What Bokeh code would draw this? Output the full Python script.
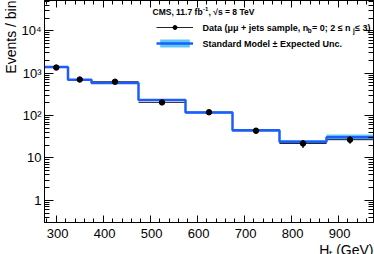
from bokeh.plotting import figure
from bokeh.models import (Range1d, FixedTicker, LinearAxis, LogAxis, Label,
                          Legend, LegendItem, Title)
from bokeh.embed import file_html
from bokeh.resources import INLINE

# ---- data ----
bin_edges = [275, 325, 375, 475, 575, 675, 775, 875, 975]
data_counts = [1360, 710, 630, 205, 120, 44, 22, 27]
data_err = [37, 27, 25, 14, 11, 6.6, 4.7, 5.2]
mc_counts = [1400, 700, 590, 232, 118, 45, 24, 31]
mc_unc = [55, 30, 25, 12, 7, 3.2, 2.4, 4.6]
x_ticks = [300, 400, 500, 600, 700, 800, 900]
y_ticks = [1, 10, 100, 1000, 10000]
y_tick_labels = ["1", "10", "10²", "10³", "10⁴"]

FONT = "Liberation Sans"
BLUE = "#1f5cff"
BAND = "#5ec8f8"

left = bin_edges[:-1]
right = bin_edges[1:]
centers = [(a + b) / 2 for a, b in zip(left, right)]
step_x, step_y = [], []
for a, b, v in zip(left, right, mc_counts):
    step_x += [a, b]
    step_y += [v, v]

y_lo, y_hi = 0.3, 5.2e4
p = figure(width=374, height=254, x_range=Range1d(bin_edges[0], bin_edges[-1]),
           y_range=Range1d(y_lo, y_hi), y_axis_type="log",
           output_backend="svg", toolbar_location=None,
           min_border_left=41, min_border_right=1, min_border_top=0,
           min_border_bottom=28)
p.xgrid.visible = False
p.ygrid.visible = False
p.outline_line_color = "black"
p.background_fill_color = "white"

x_minor = [v for v in range(280, 975, 20)]
y_minor = []
for d in [0.1, 1, 10, 100, 1000, 10000]:
    for m in range(2, 10):
        if y_lo <= m * d <= y_hi:
            y_minor.append(m * d)
xt = FixedTicker(ticks=x_ticks, minor_ticks=x_minor)
yt = FixedTicker(ticks=y_ticks, minor_ticks=y_minor)


def style(ax, maj, mnr):
    ax.axis_line_color = "black"
    ax.major_tick_line_color = "black"
    ax.minor_tick_line_color = "black"
    ax.major_tick_in = maj
    ax.major_tick_out = 0
    ax.minor_tick_in = mnr
    ax.minor_tick_out = 0


def hide_labels(ax):
    ax.major_label_text_font_size = "1px"
    ax.major_label_text_alpha = 0
    ax.major_label_standoff = 0


p.xaxis.ticker = xt
p.yaxis.ticker = yt
style(p.xaxis[0], 7, 4)
style(p.yaxis[0], 9, 5)
for ax in (p.xaxis[0], p.yaxis[0]):
    ax.major_label_text_font = FONT
    ax.major_label_text_font_size = "13px"
    ax.major_label_text_color = "black"
p.xaxis[0].major_label_standoff = 3
p.yaxis[0].major_label_standoff = 3
p.xaxis[0].major_label_overrides = {t: "\u2009" + str(t) for t in x_ticks}
p.yaxis[0].major_label_overrides = {t: s for t, s in zip(y_ticks, y_tick_labels)}

top_ax = LinearAxis(ticker=xt)
style(top_ax, 7, 4)
hide_labels(top_ax)
p.add_layout(top_ax, "above")
right_ax = LogAxis(ticker=yt)
style(right_ax, 9, 5)
hide_labels(right_ax)
p.add_layout(right_ax, "right")

# axis titles (as side titles so they are not clipped by the frame)
p.add_layout(Title(text="Events / bin", align="right", text_font=FONT,
                   text_font_size="14px", text_font_style="normal",
                   text_color="black", standoff=0, offset=0), "left")
p.add_layout(Title(text="H\u209c (GeV)", align="right", text_font=FONT,
                   text_font_size="14px", text_font_style="normal",
                   text_color="black", standoff=-7, offset=0), "below")

# ---- marks ----
band_r = p.quad(left=left, right=right,
                bottom=[v - u for v, u in zip(mc_counts, mc_unc)],
                top=[v + u for v, u in zip(mc_counts, mc_unc)],
                fill_color=BAND, line_color=None)
hseg_r = p.segment(x0=left, y0=data_counts, x1=right, y1=data_counts,
                   line_color="#222222", line_width=1)
line_r = p.line(step_x, step_y, line_color=BLUE, line_width=2.5)
p.segment(x0=centers, y0=[v - e for v, e in zip(data_counts, data_err)],
          x1=centers, y1=[v + e for v, e in zip(data_counts, data_err)],
          line_color="black", line_width=1.2)
pts_r = p.scatter(centers, data_counts, size=5.5, color="black")

# ---- legend ----
leg = Legend(items=[LegendItem(label=" ", renderers=[hseg_r, pts_r]),
                    LegendItem(label=" ", renderers=[band_r, line_r])],
             location=(112, 174), glyph_width=37, glyph_height=10,
             label_height=10, spacing=6, padding=0, margin=0,
             label_standoff=2, border_line_alpha=0, background_fill_alpha=0,
             label_text_font_size="9px")
p.add_layout(leg)


def lab(x, y, text, size, bold=True, align="left", baseline="middle"):
    p.add_layout(Label(x=x, y=y, x_units="screen", y_units="screen", text=text,
                       text_font=FONT, text_font_size=f"{size}px",
                       text_font_style="bold" if bold else "normal",
                       text_align=align, text_baseline=baseline,
                       text_color="black"))

# frame-relative screen coords: x from frame left, y from frame bottom
lab(108, 211, "CMS, 11.7 fb", 8.5)
lab(158.5, 214, "-1", 6)
lab(164, 211, ", √s = 8 TeV", 8.5)
x0 = 158
lab(x0, 195, "Data (μμ + jets sample, n", 9)
lab(x0 + 105.2, 192, "b", 6.3)
lab(x0 + 109.4, 195, " = 0; 2 ≤ n", 9)
lab(x0 + 150.6, 192, "j", 6.3)
lab(x0 + 152.6, 195, " ≤ 3)", 9)
lab(x0, 179, "Standard Model ± Expected Unc.", 9)

open("out.html", "w").write(file_html(p, INLINE))
